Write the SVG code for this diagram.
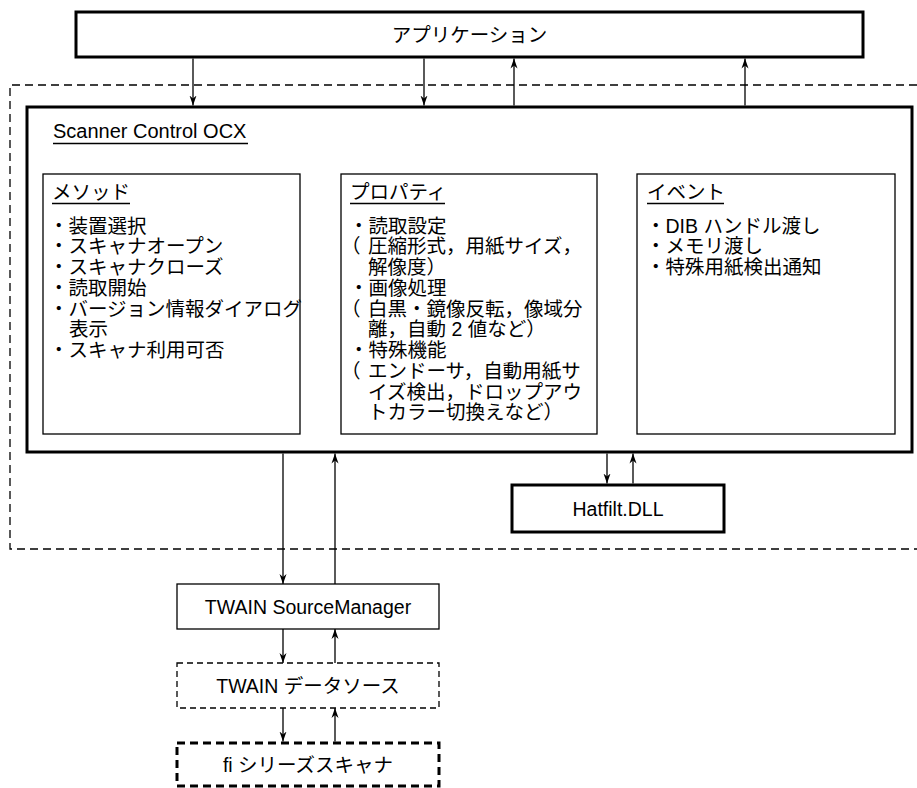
<svg xmlns="http://www.w3.org/2000/svg" width="917" height="788" viewBox="0 0 917 788">
<defs>
<style>
text{font-family:"Liberation Sans","Noto Sans CJK JP",sans-serif;font-size:19.5px;fill:#000}
.c{text-anchor:middle;dominant-baseline:central}
.thick{fill:#fff;stroke:#000;stroke-width:3}
.thin{fill:#fff;stroke:#000;stroke-width:1.3}
.dash{stroke-dasharray:6 4}
.dashk{stroke-dasharray:8 5}
.ul{stroke:#000;stroke-width:1.3}
#connectors line{stroke:#000;stroke-width:1.3;marker-end:url(#ah)}
</style>
<marker id="ah" markerWidth="12" markerHeight="10" refX="10" refY="4" orient="auto" markerUnits="userSpaceOnUse">
<path d="M0,0.5 L10,4 L0,7.5 L3,4 Z" fill="#000"/>
</marker>
</defs>
<rect width="917" height="788" fill="#fff"/>
<g id="boundary">
<path d="M917,85 H10 V549 H917" fill="none" stroke="#000" stroke-width="1.3" stroke-dasharray="8 5"/>
</g>
<g id="application">
<rect class="thick" x="76" y="12" width="787" height="45"/>
<text class="c" x="469.5" y="35">アプリケーション</text>
</g>
<g id="ocx">
<rect class="thick" x="27" y="107" width="885" height="345"/>
<text x="53" y="138" style="font-size:20px">Scanner Control OCX</text>
<line class="ul" x1="53" y1="143.5" x2="248" y2="143.5"/>
</g>
<g id="methods">
<rect class="thin" x="43" y="174" width="257" height="260"/>
<text x="52" y="199">メソッド</text>
<line class="ul" x1="52" y1="203.5" x2="130" y2="203.5"/>
<text x="49" y="232.5">・装置選択</text>
<text x="49" y="253.3">・スキャナオープン</text>
<text x="49" y="274">・スキャナクローズ</text>
<text x="49" y="294.8">・読取開始</text>
<text x="49" y="315.5">・バージョン情報ダイアログ</text>
<text x="69" y="336.3">表示</text>
<text x="49" y="357">・スキャナ利用可否</text>
</g>
<g id="properties">
<rect class="thin" x="341" y="174" width="256" height="260"/>
<text x="350" y="199">プロパティ</text>
<line class="ul" x1="350" y1="203.5" x2="445" y2="203.5"/>
<text x="349" y="232.5">・読取設定</text>
<text y="253.3"><tspan x="341">（</tspan><tspan x="368">圧縮形式，用紙サイズ，</tspan></text>
<text x="368" y="274">解像度）</text>
<text x="349" y="294.8">・画像処理</text>
<text y="315.5"><tspan x="341">（</tspan><tspan x="368">白黒・鏡像反転，像域分</tspan></text>
<text x="368" y="336.3">離，自動 2 値など）</text>
<text x="349" y="357">・特殊機能</text>
<text y="377.8"><tspan x="341">（</tspan><tspan x="368">エンドーサ，自動用紙サ</tspan></text>
<text x="368" y="398.5">イズ検出，ドロップアウ</text>
<text x="368" y="419.3">トカラー切換えなど）</text>
</g>
<g id="events">
<rect class="thin" x="637" y="174" width="258" height="260"/>
<text x="647" y="199">イベント</text>
<line class="ul" x1="647" y1="203.5" x2="724" y2="203.5"/>
<text x="646" y="232.5">・DIB ハンドル渡し</text>
<text x="646" y="253.3">・メモリ渡し</text>
<text x="646" y="274">・特殊用紙検出通知</text>
</g>
<g id="hatfilt">
<rect class="thick" x="512" y="485" width="212" height="47"/>
<text class="c" x="618" y="508.5">Hatfilt.DLL</text>
</g>
<g id="sourcemanager">
<rect class="thin" x="177" y="584" width="262" height="45"/>
<text class="c" x="308" y="606.5">TWAIN SourceManager</text>
</g>
<g id="datasource">
<rect class="thin dash" x="177" y="663" width="262" height="45"/>
<text class="c" x="308" y="685.5">TWAIN データソース</text>
</g>
<g id="scanner">
<rect class="thick dashk" x="177" y="743" width="262" height="43"/>
<text class="c" x="308" y="764.5">fi シリーズスキャナ</text>
</g>
<g id="connectors">
<line x1="193" y1="58.5" x2="193" y2="105.5"/>
<line x1="424" y1="58.5" x2="424" y2="105.5"/>
<line x1="514" y1="105.5" x2="514" y2="58.5"/>
<line x1="745" y1="105.5" x2="745" y2="58.5"/>
<line x1="283" y1="453.5" x2="283" y2="584"/>
<line x1="335" y1="584" x2="335" y2="453.5"/>
<line x1="607" y1="453.5" x2="607" y2="483.5"/>
<line x1="633" y1="483.5" x2="633" y2="453.5"/>
<line x1="283" y1="629" x2="283" y2="663"/>
<line x1="335" y1="663" x2="335" y2="629"/>
<line x1="283" y1="708" x2="283" y2="741.5"/>
<line x1="335" y1="741.5" x2="335" y2="708"/>
</g>
</svg>
